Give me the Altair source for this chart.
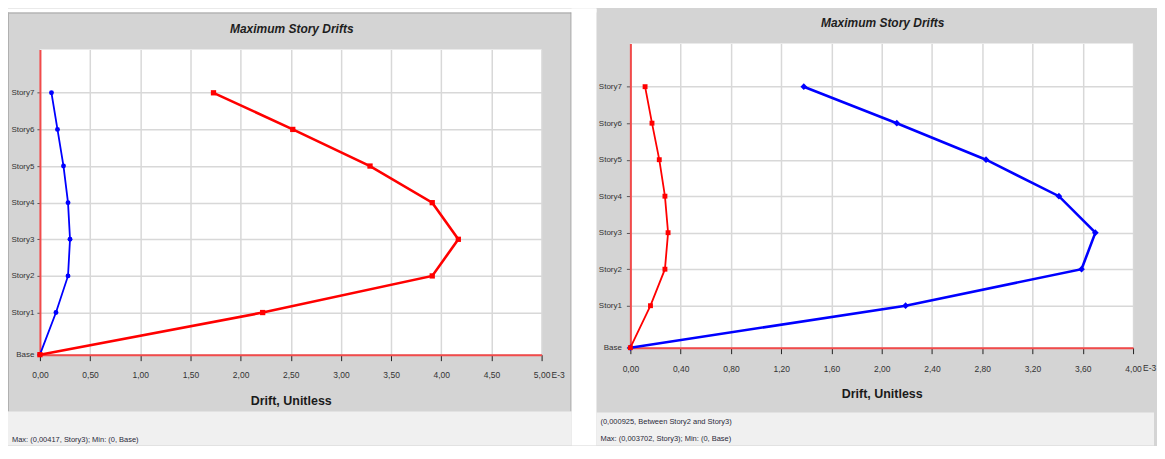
import altair as alt
import pandas as pd

# ---------------- data ----------------
stories = ["Base", "Story1", "Story2", "Story3", "Story4", "Story5", "Story6", "Story7"]
elevations = [0, 3.45, 6.45, 9.45, 12.45, 15.45, 18.45, 21.45]

# Left panel (drift x 1E-3)
left_red = [0, 2.22, 3.91, 4.17, 3.91, 3.29, 2.52, 1.73]
left_blue = [0, 0.16, 0.28, 0.30, 0.28, 0.235, 0.175, 0.115]
# Right panel (drift x 1E-3)
right_blue = [0, 2.19, 3.59, 3.70, 3.41, 2.83, 2.12, 1.38]
right_red = [0, 0.16, 0.275, 0.30, 0.275, 0.23, 0.172, 0.117]

left_ticks = [0, 0.5, 1.0, 1.5, 2.0, 2.5, 3.0, 3.5, 4.0, 4.5, 5.0]
right_ticks = [0, 0.4, 0.8, 1.2, 1.6, 2.0, 2.4, 2.8, 3.2, 3.6, 4.0]

title_text = "Maximum Story Drifts"
x_title = "Drift, Unitless"
x_unit = "E-3"
left_status = ["Max: (0,00417, Story3);  Min: (0, Base)"]
right_status = ["(0,000925, Between Story2 and Story3)",
                "Max: (0,003702, Story3);  Min: (0, Base)"]

# ---------------- styles ----------------
FONT = "Liberation Sans Narrow, Liberation Sans, Arial, sans-serif"
RED = "#ff0000"
BLUE = "#0000ff"
AXRED = "#f24a4a"
GRID = "#d8d8d8"
FRAME = "#d4d4d4"
STATUS = "#f0f0f0"

ylabel_expr = "[" + ",".join("'%s'" % s for s in stories) + "][indexof([" + \
    ",".join(repr(e) for e in elevations) + "], datum.value)]"


def rect(x0, x1, y0, y1, color):
    return alt.Chart(pd.DataFrame({"k": [0]})).mark_rect(color=color).encode(
        x=alt.value(x0), x2=alt.value(x1), y=alt.value(y0), y2=alt.value(y1))


def text_rows(rows, x, y0, dy, size=7.5):
    layers = []
    for i, r in enumerate(rows):
        layers.append(alt.Chart(pd.DataFrame({"t": [r]})).mark_text(
            align="left", baseline="middle", font=FONT, fontSize=size, color="#2a2a3a"
        ).encode(x=alt.value(x), y=alt.value(y0 + i * dy), text="t:N"))
    return layers


def panel(big, small, big_color, small_color, big_shape, small_shape, ticks, xmax,
          W, H, ytick, ypad, xlabpad, decor, status, title_y, big_size):
    df = pd.DataFrame({"story": stories, "elev": elevations, "big": big, "small": small})
    xs = alt.Scale(domain=[0, xmax], nice=False, zero=True)
    ys = alt.Scale(domain=[0, 25], nice=False)
    x_axis = alt.Axis(
        values=ticks, labelExpr="replace(format(datum.value,'.2f'),'.',',')",
        grid=True, gridColor=GRID, gridWidth=1.5,
        domainColor=AXRED, domainWidth=2, tickColor="#222", tickSize=6, tickWidth=1,
        labelPadding=xlabpad, labelBaseline="middle", labelFont=FONT, labelFontSize=8.5,
        labelColor="#333", labelFlush=False, labelOverlap=False,
        title=x_title, titleY=46, titleBaseline="middle", titleFont=FONT,
        titleFontSize=12.5, titleFontWeight="bold", titleColor="#1a1a1a")
    y_axis = alt.Axis(
        values=elevations, labelExpr=ylabel_expr, grid=True, gridColor=GRID,
        gridWidth=1.5, domainColor=AXRED, domainWidth=2, tickColor="#555",
        tickSize=ytick, labelPadding=ypad, labelFont=FONT, labelFontSize=8,
        labelColor="#333", labelFlush=False, labelOverlap=False, title=None)
    base = alt.Chart(df)
    X = lambda f: alt.X(f + ":Q", scale=xs, axis=x_axis)
    Y = alt.Y("elev:Q", scale=ys, axis=y_axis)
    bw = 2.6
    sw = 1.8
    big_line = base.mark_line(color=big_color, strokeWidth=bw).encode(x=X("big"), y=Y, order="elev:Q")
    big_pts = base.mark_point(filled=True, opacity=1, shape=big_shape, size=big_size,
                              color=big_color).encode(x=X("big"), y=Y)
    small_line = base.mark_line(color=small_color, strokeWidth=sw).encode(x=X("small"), y=Y, order="elev:Q")
    small_pts = base.mark_point(filled=True, opacity=1, shape=small_shape, size=24,
                                color=small_color).encode(x=X("small"), y=Y)
    unit = alt.Chart(pd.DataFrame({"x": [xmax], "t": [x_unit]})).mark_text(
        align="left", baseline="middle", dx=10, font=FONT, fontSize=8.5, color="#333"
    ).encode(x=alt.X("x:Q", scale=xs, axis=x_axis), y=alt.value(H + 20), text="t:N")
    title = alt.Chart(pd.DataFrame({"t": [title_text]})).mark_text(
        align="center", baseline="middle", font=FONT, fontSize=12, fontWeight="bold",
        fontStyle="italic", color="#1e1e1e"
    ).encode(x=alt.value(W / 2 + 1), y=alt.value(title_y), text="t:N")
    if big_color == BLUE:
        series = [big_line, big_pts, small_line, small_pts]
    else:
        series = [small_line, small_pts, big_line, big_pts]
    return alt.layer(*decor, *series, unit, title, *status).properties(
        width=W, height=H, view=alt.ViewBackground(fill="white", stroke=None))


# left panel: plot origin at page (40, 49), size 503 x 306; content ends at page y 446
LW, LH = 503, 306
left_decor = [
    rect(-32, 558, -41, -37, "white"),
    rect(-32, 533, -37, -36, "#a4a4a4"),
    rect(-32, -31, -37, 363, "#b0b0b0"),
    rect(532, 533, -37, 363, "#a0a0a0"),
    rect(533, 558, -41, 397, "white"),
    rect(-32, 533, 363, 397, STATUS),
]
left = panel(left_red, left_blue, RED, BLUE, "square", "circle", left_ticks, 5.0,
             LW, LH, 3, 3, 14, left_decor, text_rows(left_status, -28, 392, 0), -21, 28)

# right panel: plot origin at page (632, 43), size 504 x 305; content ends at page x 1157
RW, RH = 504, 305
right_decor = [
    rect(-34, 525, 370, 403, STATUS),
]
right = panel(right_blue, right_red, BLUE, RED, "diamond", "square", right_ticks, 4.0,
              RW, RH, 4, 5, 15, right_decor, text_rows(right_status, -30, 380, 17), -21, 45)

spacer = alt.Chart(pd.DataFrame({"k": [0]})).mark_point(opacity=0).encode(
    x=alt.value(0), y=alt.value(0)).properties(width=LW, height=6)

# nested vconcat has zero flush width, so spacing carries the left panel width
left_col = alt.vconcat(spacer, left, spacing=0, bounds="flush")
chart = alt.hconcat(left_col, right, spacing=LW + 89, bounds="flush").properties(
    padding=0).configure(background=FRAME).configure_view(stroke=None)

chart.save("out.html", embed_options={"renderer": "svg", "actions": False})
